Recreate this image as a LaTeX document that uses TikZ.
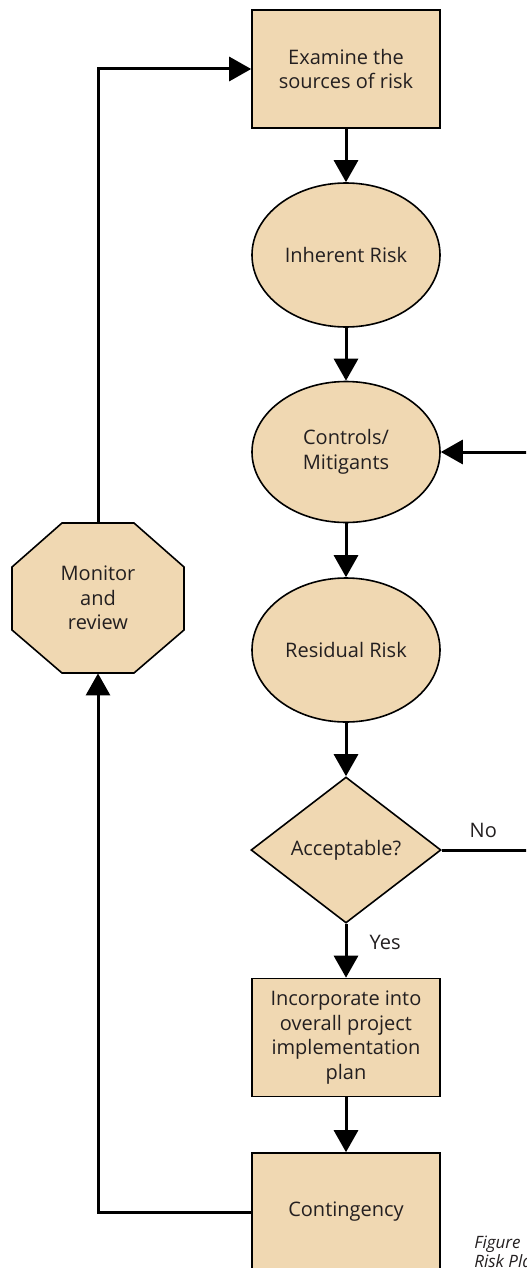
\documentclass[tikz,border=0pt]{standalone}
\usepackage{fontspec}
\setmainfont{Open Sans}
\usetikzlibrary{shapes.geometric, positioning, arrows.meta}
\definecolor{riskfill}{RGB}{240,216,178}
\definecolor{risktext}{RGB}{35,31,32}
\tikzset{
  riskbox/.style={draw, line width=0.8pt, fill=riskfill, text=risktext, align=center,
    minimum width=94pt, minimum height=59pt, inner sep=1pt,
    font=\fontsize{10pt}{12.3pt}\selectfont},
  riskoval/.style={riskbox, ellipse, inner sep=0pt, minimum height=72pt},
  riskdiamond/.style={riskbox, diamond, inner sep=0pt, minimum width=95pt, minimum height=73pt},
  flowarrow/.style={line width=1.5pt, -{Triangle[length=11pt,width=12pt]}},
  flowline/.style={line width=1.5pt},
  flowlabel/.style={text=risktext, font=\fontsize{10pt}{12.3pt}\selectfont},
  figcaption/.style={text=risktext, align=left, inner sep=0pt,
    font=\fontsize{8.5pt}{9.5pt}\selectfont\itshape},
}
\begin{document}
\begin{tikzpicture}[x=0.5pt, y=-0.5pt]
    \useasboundingbox (0,0) rectangle (526,1268);
    \clip (0,0) rectangle (526,1268);
    % main column
    \node[riskbox] (examine) at (346,69) {Examine the\\sources of risk};
    \node[riskoval] (inherent) at (346,255) {Inherent Risk};
    \node[riskoval, minimum height=70.5pt] (controls) at (346,452) {Controls/\\Mitigants};
    \node[riskoval] (residual) at (346,650) {Residual Risk};
    \node[riskdiamond] (accept) at (346,850) {Acceptable?};
    \node[riskbox] (incorp) at (346,1037.5) {Incorporate into\\overall project\\implementation\\plan};
    \node[riskbox] (conting) at (346,1212) {Contingency};
    %
    % monitor octagon
    \draw[line width=0.8pt, fill=riskfill] (62,523) -- (134,523) -- (184,567) -- (184,630)
        -- (134,673) -- (62,673) -- (12,630) -- (12,567) -- cycle;
    \node[flowlabel, align=center, minimum width=86pt, minimum height=75pt, inner sep=0pt] (monitor) at (98,598) {Monitor\\and\\review};
    %
    \coordinate (ctrlin) at (530,452);
    \coordinate (noout) at (530,850);
    %
    \draw[flowarrow] (examine.south) -- (inherent.north);
    \draw[flowarrow] (inherent.south) -- (controls.north);
    \draw[flowarrow] (controls.south) -- (residual.north);
    \draw[flowarrow] (residual.south) -- (accept.north);
    \draw[flowarrow] (accept.south) -- (incorp.north) node[flowlabel, pos=0.35, right=7.7pt] (yes) {Yes};
    \draw[flowarrow] (incorp.south) -- (conting.north);
    \draw[flowline] (accept.east) -- (noout) node[flowlabel, pos=0.47, above=2pt] (no) {No};
    \draw[flowarrow] (ctrlin) -- (controls.east);
    %
    \draw[flowarrow] (conting.west) -| (monitor.south);
    \draw[flowarrow] (monitor.north) |- (examine.west);
    %
    \node[figcaption, anchor=north west] (figcap) at (474,1236) {Figure\\Risk Planning};
\end{tikzpicture}
\end{document}
